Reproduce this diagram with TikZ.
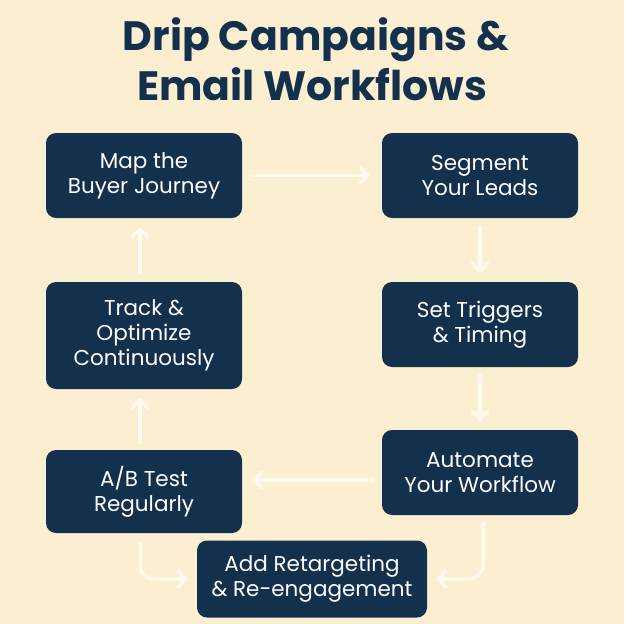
\documentclass[tikz,border=0pt]{standalone}
\usepackage{fontspec}
\setmainfont{Poppins}
\usetikzlibrary{arrows.meta}

\definecolor{creme}{HTML}{FCEED0}
\definecolor{navy}{HTML}{13304D}
\definecolor{pfeil}{HTML}{FFFAF0}

\tikzset{
	titel/.style={text=navy, anchor=base, font=\fontsize{41}{50}\selectfont\bfseries},
	schritt/.style={fill=navy, rounded corners=10pt, text=white, align=center,
		font=\fontsize{21.5}{25}\selectfont, minimum width=196pt, minimum height=85pt, inner sep=0pt},
	flow/.style={draw=pfeil, line width=3.5pt, line cap=round,
		-{Straight Barb[length=7pt,width=16pt,line cap=round]}},
}

\begin{document}
\begin{tikzpicture}[x=1pt,y=-1pt]
	% Hintergrund
	\fill[creme] (0,0) rectangle (624,624);
	\useasboundingbox (0,0) rectangle (624,624);
	% Titel
	\node[titel] (titel1) at (316,50) {Drip Campaigns \&};
	\node[titel] (titel2) at (312,100) {Email Workflows};
	% Kaesten
	\node[schritt] (map) at (144,175.5) {Map the\\Buyer Journey};
	\node[schritt] (seg) at (480,175.5) {Segment\\Your Leads};
	\node[schritt] (trig) at (480,324.5) {Set Triggers\\\& Timing};
	\node[schritt] (auto) at (480,472.5) {Automate\\Your Workflow};
	\node[schritt, minimum height=107pt] (track) at (144,335.5) {Track \&\\Optimize\\Continuously};
	\node[schritt, minimum height=83pt] (ab) at (144,491.5) {A/B Test\\Regularly};
	\node[schritt, minimum width=230pt, minimum height=77pt] (add) at (312,579) {Add Retargeting\\\& Re-engagement};
	% Pfeile
	\draw[flow, shorten <=10pt, shorten >=12pt] (map) -- (seg);
	\draw[flow, shorten <=9pt, shorten >=9pt] (seg) -- (trig);
	\draw[flow, shorten <=9pt, shorten >=9pt] (trig) -- (auto);
	\draw[flow, shorten >=10pt] ([xshift=-9pt,yshift=-7.5pt]auto.west) coordinate (h) -- (h -| ab.east);
	\draw[flow, shorten <=7pt, shorten >=9pt] ([xshift=-4pt]ab.north) -- ([xshift=-4pt]track.south);
	\draw[flow, shorten <=9pt, shorten >=9pt] ([xshift=-4pt]track.north) -- ([xshift=-4pt]map.south);
	\draw[flow, rounded corners=14pt] ([xshift=-4pt,yshift=-9pt]ab.south) |- ([xshift=-9pt]add.west);
	\draw[flow, rounded corners=14pt] ([xshift=3pt,yshift=-8pt]auto.south) |- ([xshift=9pt]add.east);
\end{tikzpicture}
\end{document}
